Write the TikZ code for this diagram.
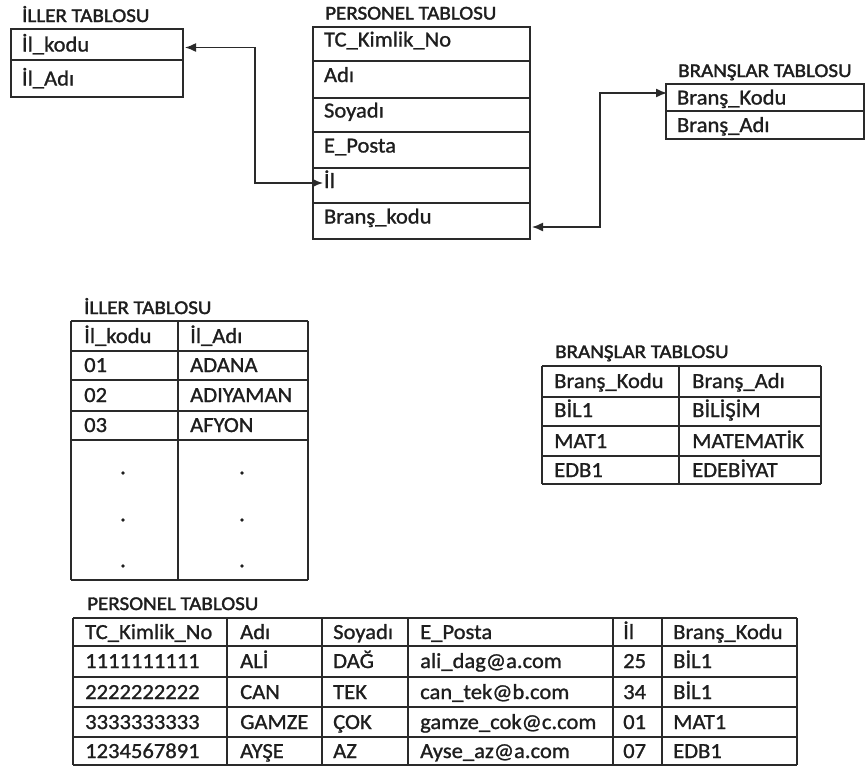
\documentclass[tikz,border=0pt]{standalone}
\usepackage{fontspec}
\setmainfont{Carlito}[FakeStretch=1.05,FakeBold=1.1]
\newfontfamily\titlefont{Carlito}[FakeStretch=1.08,FakeBold=1.8]
\usepackage{tikz}
\usetikzlibrary{arrows.meta,positioning,calc}
\definecolor{TabInk}{HTML}{1E1E1E}
\definecolor{TabLine}{HTML}{2A2A2A}

\begin{document}
\begin{tikzpicture}[x=1pt,y=-1pt,text=TabInk,font=\fontsize{21.5}{25}\selectfont,
	field/.style n args={2}{draw=TabLine,line width=1.4pt,anchor=north west,inner xsep=11pt,inner ysep=0pt,outer sep=0pt,text width=#1,minimum height=#2,align=left,text height=14pt,text depth=0pt},
	title/.style={anchor=base west,inner sep=0pt,font=\titlefont\fontsize{19.5}{22}\selectfont},
	cell/.style={anchor=base west,inner sep=0pt},
	gridline/.style={TabLine,line width=1.4pt},
	link/.style={TabLine,line width=1.4pt,{Latex[length=11pt,width=9pt]}-{Latex[length=11pt,width=9pt]}}]
		\useasboundingbox (0,0) rectangle (866,766);
		\node[title] (t-il) at (22,22) {İLLER TABLOSU};
		\node[field={150}{31}] (ilkodu) at (11,29) {İl\_kodu};
		\node[field={150}{37},below=0pt of ilkodu] (iladi) {İl\_Adı};
		\node[title] (t-per) at (325,19.5) {PERSONEL TABLOSU};
		\node[field={195}{34},text depth=9pt] (ptc) at (313,27) {TC\_Kimlik\_No};
		\node[field={195}{37},text depth=9pt,below=0pt of ptc] (pad) {Adı};
		\node[field={195}{34},text depth=9pt,below=0pt of pad] (psoy) {Soyadı};
		\node[field={195}{36},text depth=9pt,below=0pt of psoy] (pepo) {E\_Posta};
		\node[field={195}{35},text depth=9pt,below=0pt of pepo] (pil) {İl};
		\node[field={195}{36},text depth=9pt,below=0pt of pil] (pbrans) {Branş\_kodu};
		\node[title] (t-br) at (678,77) {BRANŞLAR TABLOSU};
		\node[field={176}{27}] (bkodu) at (666,84) {Branş\_Kodu};
		\node[field={176}{28},below=0pt of bkodu] (badi) {Branş\_Adı};
		\draw[link] ($(ilkodu.east)+(2,3)$) -- ++(70,0) |- ($(pil.west)+(10,-2.5)$);
		\draw[link] ($(pbrans.east)+(2,6)$) -- ++(68,0) |- ($(bkodu.west)+(1,-4.5)$);
		\node[title] (t-il2) at (84,314) {İLLER TABLOSU};
		\foreach \x in {71,178,308} \draw[gridline] (\x,321) -- (\x,580);
		\foreach \y in {321,351,380,411,440,580} \draw[gridline] (71,\y) -- (308,\y);
		\foreach \y/\a/\b in {343/İl\_kodu/İl\_Adı,372/01/ADANA,402/02/ADIYAMAN,432/03/AFYON} {
			\node[cell] (ic-\y-1) at (84,\y) {\a};
			\node[cell] (ic-\y-2) at (190,\y) {\b};
		}
		\foreach \x in {123,242} \foreach \y in {473,520,566}
		\fill[TabInk] (\x,\y) circle (1.9);
		\node[title] (t-br2) at (555,358) {BRANŞLAR TABLOSU};
		\foreach \x in {542,679,821} \draw[gridline] (\x,366) -- (\x,484);
		\foreach \y in {366,397,426,456,484} \draw[gridline] (542,\y) -- (821,\y);
		\foreach \y/\a/\b in {388/Branş\_Kodu/Branş\_Adı,417/BİL1/BİLİŞİM,448/MAT1/MATEMATİK,477/EDB1/EDEBİYAT} {
			\node[cell] (bc-\y-1) at (554,\y) {\a};
			\node[cell] (bc-\y-2) at (692,\y) {\b};
		}
		\node[title] (t-per2) at (87,610) {PERSONEL TABLOSU};
		\foreach \x in {73,227,322,408,613,662,797} \draw[gridline] (\x,618) -- (\x,765);
		\foreach \y in {618,646,677,707,737,765} \draw[gridline] (73,\y) -- (797,\y);
		\foreach \y/\a/\b/\c/\d/\e/\f in {639/TC\_Kimlik\_No/Adı/Soyadı/E\_Posta/İl/Branş\_Kodu,
			668/1111111111/ALİ/DAĞ/ali\_dag@a.com/25/BİL1,
			699/2222222222/CAN/TEK/can\_tek@b.com/34/BİL1,
			729/3333333333/GAMZE/ÇOK/gamze\_cok@c.com/01/MAT1,
			758/1234567891/AYŞE/AZ/Ayse\_az@a.com/07/EDB1} {
			\node[cell] (pc-\y-1) at (85,\y) {\a};
			\node[cell] (pc-\y-2) at (240,\y) {\b};
			\node[cell] (pc-\y-3) at (333,\y) {\c};
			\node[cell] (pc-\y-4) at (420,\y) {\d};
			\node[cell] (pc-\y-5) at (623,\y) {\e};
			\node[cell] (pc-\y-6) at (673,\y) {\f};
		}
\end{tikzpicture}
\end{document}
